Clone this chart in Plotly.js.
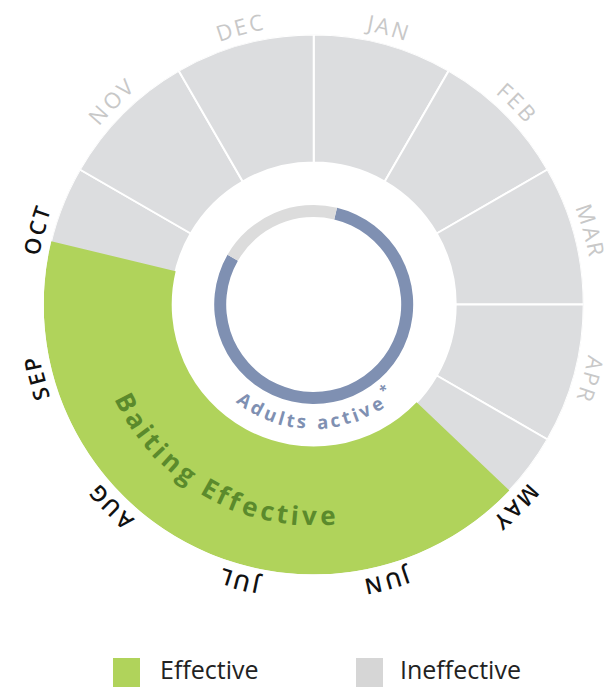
<!DOCTYPE html>
<html>
<head>
<meta charset="utf-8">
<script src="https://cdn.plot.ly/plotly-3.0.1.min.js"></script>
<style>html,body{margin:0;padding:0;background:#fff;}#chart{width:612px;height:687px;}</style>
</head>
<body>
<div id="chart"></div>
<script>
// ---------- DATA ----------
const months = ['JAN','FEB','MAR','APR','MAY','JUN','JUL','AUG','SEP','OCT','NOV','DEC'];
const daysInMonth = [31,28,31,30,31,30,31,31,30,31,30,31];
const effectiveStart = {month:'MAY', day:15};
const effectiveEnd   = {month:'OCT', day:15};
const adultsStart = {month:'JAN', day:15};
const adultsEnd   = {month:'OCT', day:31};
const ringLabel = 'Baiting Effective';
const innerLabel = 'Adults active';
const innerMark = '*';
const legendNames = ['Effective','Ineffective'];

// ---------- STYLE ----------
const W = 612, H = 687;
const CX = 313.7, CY = 304.5, R = 270;
const ringInner = 142, ringOuter = 270;
const innerR0 = 87.5, innerR1 = 99.5;
const cGreen = '#b0d35b', cGray = '#dcdddf', cBlue = '#7f90b2', cInnerGray = '#dcdcdc';
const cLabelGray = '#c8c8c8', cLabelDark = '#111111';
const FONT = '"Open Sans", "Noto Sans", sans-serif';

function dateToDeg(d, isEnd) {
  const m = months.indexOf(d.month);
  const frac = isEnd ? d.day / daysInMonth[m] : (d.day - 1) / daysInMonth[m];
  return (m + frac) * 30;
}
const effA = dateToDeg(effectiveStart, false);
const effEnd = dateToDeg(effectiveEnd, false);
const adA = dateToDeg(adultsStart, false), adB = dateToDeg(adultsEnd, true);

const traces = [];
// gray month ring
traces.push({
  type:'barpolar', theta: months.map((m,i)=>i*30+15), width: months.map(()=>30),
  r: months.map(()=>ringOuter-ringInner), base: months.map(()=>ringInner),
  marker:{color:cGray, line:{color:'#ffffff', width:2}}, hoverinfo:'skip', showlegend:false
});
// green effective span
traces.push({
  type:'barpolar', theta:[(effA+effEnd)/2], width:[effEnd-effA],
  r:[ringOuter-ringInner], base:[ringInner],
  marker:{color:cGreen, line:{width:0}}, hoverinfo:'skip', showlegend:false
});
// inner ring: adults active
traces.push({
  type:'barpolar', theta:[(adA+adB)/2], width:[adB-adA], r:[innerR1-innerR0], base:[innerR0],
  marker:{color:cBlue, line:{width:0}}, hoverinfo:'skip', showlegend:false
});
traces.push({
  type:'barpolar', theta:[(adB+adA+360)/2], width:[360-(adB-adA)], r:[innerR1-innerR0], base:[innerR0],
  marker:{color:cInnerGray, line:{width:0}}, hoverinfo:'skip', showlegend:false
});

// ---------- curved text via annotations ----------
const cv = document.createElement('canvas').getContext('2d');
function toPaper(theta, r) {
  const a = theta * Math.PI / 180;
  return {x:(CX + r*Math.sin(a))/W, y:1 - (CY - r*Math.cos(a))/H};
}
function norm(a){ a = ((a % 360) + 360) % 360; return a > 180 ? a - 360 : a; }
function arcText(text, thetaMid, r, size, weight, color, spacing, dir) {
  cv.font = weight + ' ' + size + 'px "Open Sans"';
  const chars = Array.from(text);
  const ws = chars.map(c => cv.measureText(c).width);
  const total = ws.reduce((a,b)=>a+b,0) + spacing*(chars.length-1);
  const out = [];
  let pos = 0;
  chars.forEach((c,i) => {
    const off = pos + ws[i]/2 - total/2;
    pos += ws[i] + spacing;
    if (c === ' ') return;
    const th = thetaMid + dir * off / r * 180 / Math.PI;
    const p = toPaper(th, r);
    out.push({x:p.x, y:p.y, xref:'paper', yref:'paper', text:c, showarrow:false, borderpad:0,
      xanchor:'center', yanchor:'middle', textangle: norm(dir > 0 ? th : th - 180),
      font:{family:FONT, size:size, color:color, weight: weight}});
  });
  return out;
}

let annotations = [];
months.forEach((m,i) => {
  const a0 = i*30, a1 = i*30+30;
  const inEff = a1 > effA && a0 < effEnd;
  annotations = annotations.concat(arcText(m, i*30+15, 288, 22, inEff ? 600 : 400, inEff ? cLabelDark : cLabelGray, 3, 1));
});
annotations = annotations.concat(arcText(ringLabel, 209.5, 211, 26, 700, '#5b8a2c', 3, -1));
annotations = annotations.concat(arcText(innerLabel, 182, 117, 18.5, 700, cBlue, 2.6, -1));
annotations = annotations.concat(arcText(innerMark, 140.5, 110, 14, 700, cBlue, 0, -1));

// legend (custom)
const shapes = [];
const legendItems = [{x:113, color:cGreen, tx:159}, {x:356, color:'#d6d6d6', tx:399}];
legendItems.forEach((it, i) => {
  shapes.push({type:'rect', xref:'paper', yref:'paper', x0:it.x/W, x1:(it.x+27)/W, y0:1-688/H, y1:1-658/H,
    fillcolor:it.color, line:{width:0}});
  annotations.push({x:it.tx/W, y:1-687/H, xref:'paper', yref:'paper', text:legendNames[i], showarrow:false,
    borderpad:0, xanchor:'left', yanchor:'bottom', font:{family:FONT, size:25, color:'#222222'}});
});

const layout = {
  width:W, height:H, margin:{l:0,r:0,t:0,b:0}, paper_bgcolor:'#ffffff', showlegend:false,
  polar:{
    domain:{x:[(CX-R)/W,(CX+R)/W], y:[1-(CY+R)/H, 1-(CY-R)/H]},
    bgcolor:'rgba(0,0,0,0)', barmode:'overlay',
    radialaxis:{visible:false, range:[0,R]},
    angularaxis:{visible:false, direction:'clockwise', rotation:90, thetaunit:'degrees'}
  },
  annotations:annotations, shapes:shapes
};
Plotly.newPlot('chart', traces, layout, {displayModeBar:false, staticPlot:true});
</script>
</body>
</html>
